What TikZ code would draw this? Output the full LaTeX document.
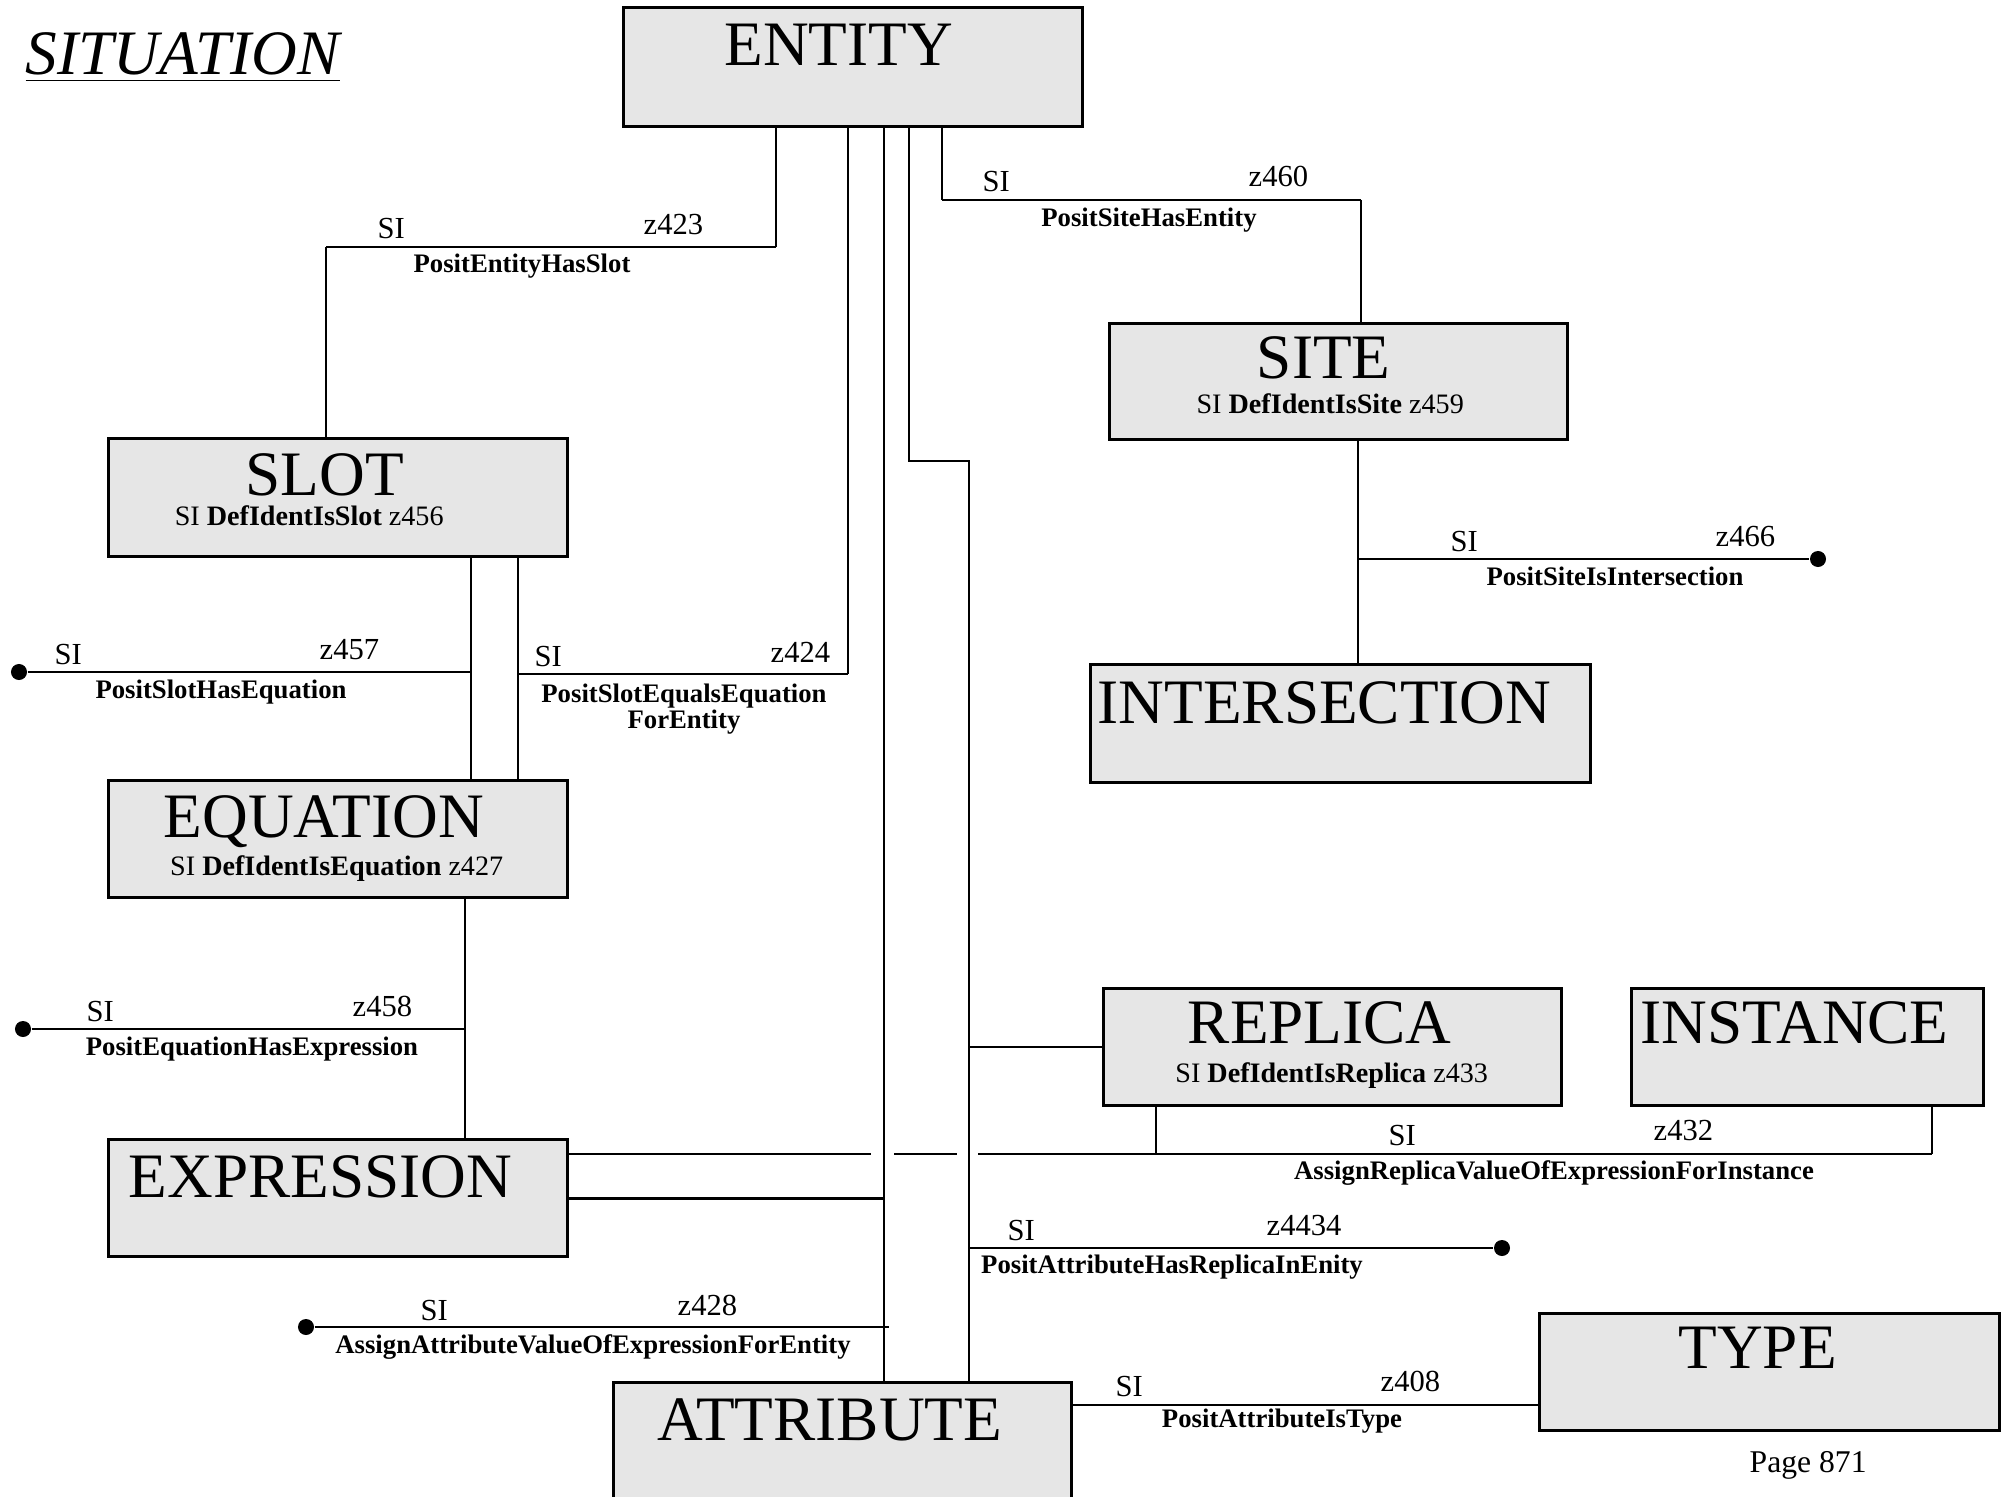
\documentclass[tikz,border=0pt]{standalone}
\usepackage{fontspec}
\setmainfont{Liberation Serif}
\usetikzlibrary{positioning, calc}
\definecolor{boxgray}{RGB}{230,230,230}

\begin{document}
\begin{tikzpicture}[
    x=0.01cm, y=-0.01cm,
    ebox/.style={draw, line width=0.9pt, fill=boxgray, inner sep=0pt, anchor=north west},
    etitle/.style={anchor=base, inner sep=0pt, font=\fontsize{18}{21}\selectfont},
    eleft/.style={anchor=base west, inner sep=0pt, font=\fontsize{18}{21}\selectfont},
    esub/.style={anchor=base, inner sep=0pt, font=\fontsize{8}{9.5}\selectfont},
    si/.style={anchor=base west, inner sep=0pt, font=\fontsize{8.7}{10}\selectfont},
    rname/.style={anchor=base, inner sep=0pt, font=\fontsize{7.6}{9}\selectfont\bfseries},
    line/.style={line width=0.5pt},
    rel/.style={line width=0.8pt},
    dot/.style={circle, fill, inner sep=0pt, minimum size=0.16cm}
]
\useasboundingbox (0,0) rectangle (2005,1497);

% Heading
\node[anchor=base west, inner sep=0pt, font=\fontsize{18}{21}\selectfont\itshape] (heading) at (25,75) {\underline{SITUATION}};

% Boxes
\node[ebox, minimum width=4.59cm, minimum height=1.19cm] (entity) at (622,6) {};
\node[ebox, minimum width=4.59cm, minimum height=1.18cm] (slot) at (107,437) {};
\node[ebox, minimum width=4.58cm, minimum height=1.16cm] (site) at (1108,322) {};
\node[ebox, minimum width=5.00cm, minimum height=1.18cm] (intersection) at (1089,663) {};
\node[ebox, minimum width=4.59cm, minimum height=1.17cm] (equation) at (107,779) {};
\node[ebox, minimum width=4.59cm, minimum height=1.17cm] (expression) at (107,1138) {};
\node[ebox, minimum width=4.58cm, minimum height=1.17cm] (replica) at (1102,987) {};
\node[ebox, minimum width=3.52cm, minimum height=1.17cm] (instance) at (1630,987) {};
\node[ebox, minimum width=4.60cm, minimum height=1.17cm] (type) at (1538,1312) {};
\node[ebox, minimum width=4.58cm, minimum height=1.30cm] (attribute) at (612,1381) {};

% Box texts
\node[etitle] (entityname) at ([xshift=-0.145cm, yshift=-0.59cm]entity.north) {ENTITY};
\node[etitle] (slotname) at ([xshift=-0.135cm, yshift=-0.58cm]slot.north) {SLOT};
\node[esub] (slotsub) at ([xshift=-0.29cm, yshift=-0.88cm]slot.north) {SI \textbf{DefIdentIsSlot} z456};
\node[etitle] (sitename) at ([xshift=-0.15cm, yshift=-0.56cm]site.north) {SITE};
\node[esub] (sitesub) at ([xshift=-0.085cm, yshift=-0.91cm]site.north) {SI \textbf{DefIdentIsSite} z459};
\node[eleft] (intersectionname) at ([xshift=0.08cm, yshift=-0.60cm]intersection.north west) {INTERSECTION};
\node[etitle] (equationname) at ([xshift=-0.145cm, yshift=-0.58cm]equation.north) {EQUATION};
\node[esub] (equationsub) at ([xshift=-0.015cm, yshift=-0.96cm]equation.north) {SI \textbf{DefIdentIsEquation} z427};
\node[eleft] (expressionname) at ([xshift=0.21cm, yshift=-0.59cm]expression.north west) {EXPRESSION};
\node[etitle] (replicaname) at ([xshift=-0.13cm, yshift=-0.56cm]replica.north) {REPLICA};
\node[esub] (replicasub) at ([xshift=-0.01cm, yshift=-0.95cm]replica.north) {SI \textbf{DefIdentIsReplica} z433};
\node[eleft] (instancename) at ([xshift=0.10cm, yshift=-0.56cm]instance.north west) {INSTANCE};
\node[etitle] (typename) at ([xshift=-0.12cm, yshift=-0.56cm]type.north) {TYPE};
\node[etitle] (attributename) at ([xshift=-0.13cm, yshift=-0.59cm]attribute.north) {ATTRIBUTE};

% Junctions and free ends
\coordinate (hs1) at (776,247);
\coordinate (hs2) at (326,247);
\coordinate (se1) at (942,200);
\coordinate (se2) at (1361,200);
\coordinate (sx) at (1358,559);
\coordinate (sq) at (471,672);
\coordinate (eq1) at (518,674);
\coordinate (eq2) at (848,674);
\coordinate (ex) at (884,1197);
\coordinate (ea1) at (909,461);
\coordinate (ea2) at (969,461);
\coordinate (ee) at (465,1029);
\coordinate (av) at (889,1327);
\coordinate (ar) at (1932,1154);
\coordinate (rb) at (1156,1154);
\coordinate (at) at (1538,1405);
\node[dot] (dsx) at (1818,559) {};
\node[dot] (dsq) at (19,672) {};
\node[dot] (dee) at (23,1029) {};
\node[dot] (dav) at (306,1327) {};
\node[dot] (dre) at (1502,1248) {};

% PositEntityHasSlot
\draw[line] (hs1 |- entity.south) -- (hs1);
\draw[rel] (hs1) -- (hs2);
\draw[line] (hs2) -- (hs2 |- slot.north);
\node[si] (hssi) at (377,239) {SI};
\node[si] (hsz) at (643,235) {z423};
\node[rname] (hsname) at (522,273) {PositEntityHasSlot};

% PositSiteHasEntity
\draw[line] (se1 |- entity.south) -- (se1);
\draw[rel] (se1) -- (se2);
\draw[line] (se2) -- (se2 |- site.north);
\node[si] (sesi) at (982,192) {SI};
\node[si] (sez) at (1248,187) {z460};
\node[rname] (sename) at (1149,227) {PositSiteHasEntity};

% PositSiteIsIntersection
\draw[line] (sx |- site.south) -- (sx |- intersection.north);
\draw[rel] (sx) -- (dsx);
\node[si] (sxsi) at (1450,551) {SI};
\node[si] (sxz) at (1715,546) {z466};
\node[rname] (sxname) at (1615,585) {PositSiteIsIntersection};

% PositSlotHasEquation
\draw[line] (sq |- slot.south) -- (sq |- equation.north);
\draw[rel] (dsq) -- (sq);
\node[si] (sqsi) at (54,664) {SI};
\node[si] (sqz) at (319,659) {z457};
\node[rname] (sqname) at (221,698) {PositSlotHasEquation};

% PositSlotEqualsEquationForEntity
\draw[line] (eq1 |- slot.south) -- (eq1 |- equation.north);
\draw[rel] (eq1) -- (eq2);
\draw[line] (eq2) -- (eq2 |- entity.south);
\node[si] (eqsi) at (534,666) {SI};
\node[si] (eqz) at (770,662) {z424};
\node[rname] (eqname) at (684,702) {PositSlotEqualsEquation};
\node[rname] (eqname2) at (684,728) {ForEntity};

% Entity to Attribute
\draw[line] (ex |- entity.south) -- (ex |- attribute.north);
\draw[rel] (expression.east) -- (expression.east -| ex);
\draw[line] (ea1 |- entity.south) -- (ea1) -- (ea2) -- (ea2 |- attribute.north);

% PositEquationHasExpression
\draw[line] (ee |- equation.south) -- (ee |- expression.north);
\draw[rel] (dee) -- (ee);
\node[si] (eesi) at (86,1021) {SI};
\node[si] (eez) at (352,1016) {z458};
\node[rname] (eename) at (252,1055) {PositEquationHasExpression};

% AssignAttributeValueOfExpressionForEntity
\draw[rel] (dav) -- (av);
\node[si] (avsi) at (420,1320) {SI};
\node[si] (avz) at (677,1315) {z428};
\node[rname] (avname) at (593,1353) {AssignAttributeValueOfExpressionForEntity};

% AssignReplicaValueOfExpressionForInstance
\draw[rel] (expression.east |- ar) -- ($(ex |- ar)+(-13,0)$);
\draw[rel] ($(ex |- ar)+(10,0)$) -- ($(ea2 |- ar)+(-12,0)$);
\draw[rel] ($(ea2 |- ar)+(9,0)$) -- (ar);
\draw[line] (ar) -- (ar |- instance.south);
\draw[line] (rb) -- (rb |- replica.south);
\node[si] (arsi) at (1388,1145) {SI};
\node[si] (arz) at (1653,1140) {z432};
\node[rname] (arname) at (1554,1179) {AssignReplicaValueOfExpressionForInstance};

% Attribute to Replica
\draw[line] (ea2 |- replica.west) -- (replica.west);

% PositAttributeHasReplicaInEnity
\draw[rel] (ea2 |- dre) -- (dre);
\node[si] (resi) at (1007,1240) {SI};
\node[si] (rez) at (1266,1235) {z4434};
\node[rname] (rename) at (1172,1273) {PositAttributeHasReplicaInEnity};

% PositAttributeIsType
\draw[rel] (attribute.east |- at) -- (at);
\node[si] (atsi) at (1115,1396) {SI};
\node[si] (atz) at (1380,1391) {z408};
\node[rname] (atname) at (1282,1427) {PositAttributeIsType};

% Page number
\node[anchor=base west, inner sep=0pt, font=\fontsize{9}{11}\selectfont] (page) at (1749,1472) {Page 871};

\end{tikzpicture}
\end{document}
